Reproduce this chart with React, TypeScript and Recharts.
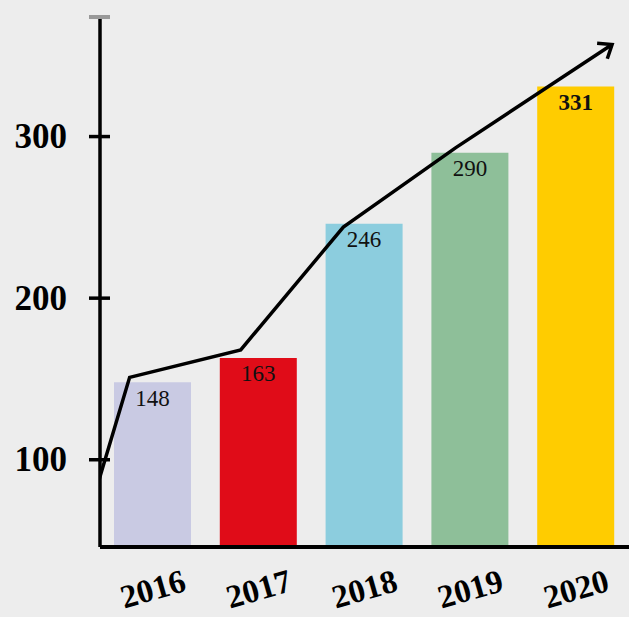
import React from 'react';
import { ComposedChart, Bar, Line, XAxis, YAxis, Cell, LabelList } from 'recharts';

const years = ['2016', '2017', '2018', '2019', '2020'];
const values = [148, 163, 246, 290, 331];
const barColors = ['#c9cae3', '#e00c18', '#8ccdde', '#8ebf99', '#ffcc00'];
const yTicks = [100, 200, 300];
const yDomain = [46, 374];
// hand-drawn trend arrow, in category units (0 = first bar centre) and value units
const trendX = [-0.53, -0.22, 0.83, 1.8, 2.86, 4.34];
const trendY = [83, 151, 168, 244, 293, 357];

const barData = years.map((year, i) => ({ year, value: values[i] }));
const trendData = trendX.map((x, i) => ({ x, y: trendY[i] }));
const maxValue = Math.max(...values);

const FONT = '"Liberation Serif", "DejaVu Serif", serif';

const YTick = (props: any) => {
  const { y, payload } = props;
  const ax = 99;
  return (
    <g>
      <line x1={ax - 10} x2={ax + 11} y1={y} y2={y} stroke="#000" strokeWidth={3.5} />
      <text x={ax - 32} y={y} textAnchor="end" dominantBaseline="central" fontFamily={FONT} fontWeight="bold" fontSize={35} fill="#000">
        {payload.value}
      </text>
    </g>
  );
};

const XTick = (props: any) => {
  const { x, payload } = props;
  const ty = 589;
  return (
    <text x={x} y={ty} textAnchor="middle" dominantBaseline="central" transform={`rotate(-16 ${x} ${ty})`} fontFamily={FONT} fontWeight="bold" fontSize={33} fill="#000">
      {payload.value}
    </text>
  );
};

const AxisCap = (props: any) => {
  const vb = props.viewBox || {};
  const ax = (vb.x || 0) + (vb.width || 0) - 1;
  const ty = vb.y || 0;
  return <line x1={ax - 10} x2={ax + 11} y1={ty} y2={ty} stroke="#999" strokeWidth={4} />;
};

const BarLabel = (props: any) => {
  const { x, y, width, value } = props;
  return (
    <text x={x + width / 2} y={y + 16} textAnchor="middle" dominantBaseline="central" fontFamily={FONT} fontSize={23} fontWeight={value === maxValue ? 'bold' : 'normal'} fill="#111">
      {value}
    </text>
  );
};

const ArrowDot = (props: any) => {
  const { cx, cy, index, points } = props;
  if (index !== trendX.length - 1 || cx == null) return <g key={`d${index}`} />;
  let ang = Math.atan2(-104, 157);
  if (points && points[index - 1]) {
    const p = points[index - 1];
    ang = Math.atan2(cy - p.y, cx - p.x);
  }
  const len = 15;
  const spread = (38 * Math.PI) / 180;
  const a1x = cx - len * Math.cos(ang - spread);
  const a1y = cy - len * Math.sin(ang - spread);
  const a2x = cx - len * Math.cos(ang + spread);
  const a2y = cy - len * Math.sin(ang + spread);
  return (
    <polyline key={`d${index}`} points={`${a1x},${a1y} ${cx},${cy} ${a2x},${a2y}`} fill="none" stroke="#000" strokeWidth={3.5} />
  );
};

export default function App() {
  return (
    <div style={{ position: 'absolute', left: 0, top: 0, width: 629, height: 617, background: '#ededed' }}>
      <ComposedChart width={629} height={617} data={barData} margin={{ top: 17, right: 0, bottom: 10, left: 10 }}>
        <XAxis xAxisId="cat" dataKey="year" axisLine={{ stroke: '#000', strokeWidth: 4 }} tickLine={false} tick={<XTick />} height={60} interval={0} />
        <XAxis xAxisId="num" dataKey="x" type="number" domain={[-0.5, 4.5]} allowDataOverflow hide />
        <YAxis
          type="number"
          domain={yDomain}
          allowDataOverflow
          ticks={yTicks}
          width={90}
          axisLine={{ stroke: '#000', strokeWidth: 3.5 }}
          tickLine={false}
          tick={<YTick />}
          label={{ content: <AxisCap /> }}
        />
        <Bar xAxisId="cat" dataKey="value" barSize={77} isAnimationActive={false}>
          {barData.map((d, i) => (
            <Cell key={d.year} fill={barColors[i]} />
          ))}
          <LabelList dataKey="value" content={<BarLabel />} />
        </Bar>
        <Line
          xAxisId="num"
          data={trendData}
          dataKey="y"
          type="linear"
          stroke="#000"
          strokeWidth={3.5}
          dot={(p: any) => <ArrowDot {...p} />}
          activeDot={false}
          isAnimationActive={false}
        />
      </ComposedChart>
    </div>
  );
}
